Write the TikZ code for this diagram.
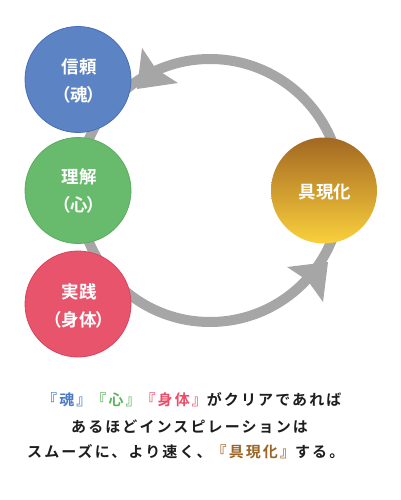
\documentclass[tikz,border=0pt]{standalone}
\usepackage{fontspec}
\newfontfamily\jpfont[RawFeature=+palt]{Noto Sans CJK JP}
\newfontfamily\jpbold[RawFeature=+palt]{Noto Sans CJK JP Bold}
\newfontfamily\jpmed[LetterSpace=14]{Noto Sans CJK JP Bold}
\definecolor{cblue}{RGB}{92,131,196}
\definecolor{cblueb}{RGB}{70,110,185}
\definecolor{cgreen}{RGB}{104,187,108}
\definecolor{cgreenb}{RGB}{90,172,95}
\definecolor{cred}{RGB}{232,84,108}
\definecolor{credb}{RGB}{220,66,92}
\definecolor{gtop}{RGB}{163,104,34}
\definecolor{gbot}{RGB}{250,208,60}
\definecolor{ringgray}{RGB}{166,166,166}
\definecolor{tblue}{RGB}{74,120,194}
\definecolor{tgreen}{RGB}{93,179,95}
\definecolor{tred}{RGB}{232,80,106}
\definecolor{tbrown}{RGB}{156,100,37}
\definecolor{tblack}{RGB}{30,30,30}
\tikzset{
  bubble/.style={circle, minimum size=106pt, inner sep=0pt, line width=0.8pt},
  label/.style={text=white, font=\jpbold\fontsize{17.5}{17.5}\selectfont, inner sep=0pt},
  caption/.style={anchor=west, text=tblack, font=\jpmed\fontsize{15}{15}\selectfont, inner sep=0pt},
  arrowhead/.style={fill=ringgray, draw=none}
}
\begin{document}
\begin{tikzpicture}[x=1pt,y=-1pt]
\useasboundingbox (0,0) rectangle (400,500);
% ring
\coordinate (c) at (210,190.5);
\draw[ringgray, line width=10pt] (c) circle[radius=131.5pt];
% arrowheads
\coordinate (a1) at (142,48);
\coordinate (a2) at (156,69);
\coordinate (a3) at (178,83);
\coordinate (a4) at (137,89);
\fill[arrowhead] (a1) -- (a2) -- (a3) -- (a4) -- cycle;
\coordinate (b1) at (287,267);
\coordinate (b2) at (308,281);
\coordinate (b3) at (323,302);
\coordinate (b4) at (328,262);
\fill[arrowhead] (b1) -- (b2) -- (b3) -- (b4) -- cycle;
% circles
\node[bubble, fill=cblue, draw=cblueb] (blue) at (78,79.5) {};
\node[bubble, fill=cgreen, draw=cgreenb] (green) at (78,190.5) {};
\node[bubble, fill=cred, draw=credb] (red) at (78,304) {};
\shade[top color=gtop, bottom color=gbot] (324,190.5) circle[radius=53pt];
\node[bubble] (gold) at (324,190.5) {};
% labels
\node[label] (l1) at (79,67) {信頼};
\node[label] (l2) at (79,95) {（魂）};
\node[label] (l3) at (79,177) {理解};
\node[label] (l4) at (79,205) {（心）};
\node[label] (l5) at (79,292) {実践};
\node[label] (l6) at (79,320) {（身体）};
\node[label] (l7) at (325,192) {具現化};
% caption
\node[caption] (t1) at (42,400) {\textcolor{tblue}{『魂』}\textcolor{tgreen}{『心』}\textcolor{tred}{『身体』}がクリアであれば};
\node[caption] (t2) at (71,427) {あるほどインスピレーションは};
\node[caption] (t3) at (27,452) {スムーズに、より速く、\textcolor{tbrown}{『具現化』}する。};
\end{tikzpicture}
\end{document}
